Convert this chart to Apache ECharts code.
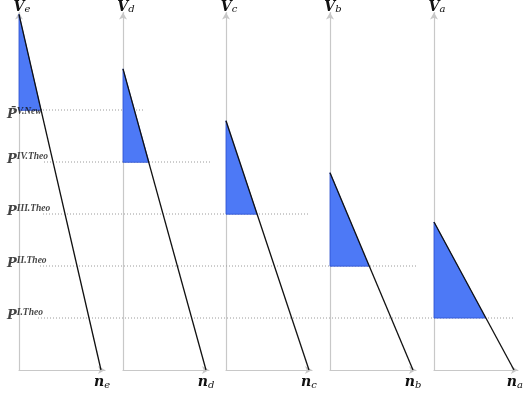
<!DOCTYPE html>
<html><head><meta charset="utf-8">
<script src="https://cdn.jsdelivr.net/npm/echarts@6/dist/echarts.min.js"></script>
<style>html,body{margin:0;padding:0;background:#fff}#c{width:526px;height:397px}</style>
</head><body><div id="c"></div>
<script>
// ---- data ----
const panelNames = ['e', 'd', 'c', 'b', 'a'];
const topV = [6.85, 5.8, 4.8, 3.8, 2.85];      // V value where the line starts
const bottomN = [8.2, 8.3, 8.3, 8.3, 8.2];     // n value where the line meets the axis
const crossN = [2.2, 2.6, 3.1, 3.9, 5.3];      // n value where the line crosses its level
const levels = [5, 4, 3, 2, 1];                // P level of each panel
const levelSup = ['V.New', 'IV.Theo', 'III.Theo', 'II.Theo', 'I.Theo'];

// ---- layout ----
const axisLeft = [19, 123, 226, 330, 434];
const gridTop = 12, gridH = 358, gridW = 86;
const yMax = gridH / 52, xMax = gridW / 10;
const dotStart = [10, 44, 43, 40, 38];
const dotEnd = [145, 210, 308, 417, 515];
const serif = 'DejaVu Serif';
const serif2 = 'Liberation Serif';
const axisGrey = '#c8c8c8';

const grids = [], xAxes = [], yAxes = [], series = [];
panelNames.forEach((nm, i) => {
  grids.push({ left: axisLeft[i], top: gridTop, width: gridW, height: gridH });
  xAxes.push({
    gridIndex: i, type: 'value', min: 0, max: xMax,
    name: '{a|n}{b|' + nm + '}', nameLocation: 'end', nameGap: -3,
    nameTextStyle: { align: 'center', verticalAlign: 'top', padding: [4, 0, 0, 0],
      rich: { a: { fontFamily: serif, fontSize: 14, fontWeight: 'bold', fontStyle: 'italic', color: '#111' },
              b: { fontFamily: serif, fontSize: 10, fontStyle: 'italic', color: '#111', verticalAlign: 'bottom', padding: [6, 0, 0, 0] } } },
    axisLine: { show: true, lineStyle: { color: axisGrey, width: 1.2 }, symbol: ['none', 'arrow'], symbolSize: [6, 7] },
    axisTick: { show: false }, axisLabel: { show: false }, splitLine: { show: false }
  });
  yAxes.push({
    gridIndex: i, type: 'value', min: 0, max: yMax,
    name: '{a|V}{b|' + nm + '}', nameLocation: 'end', nameGap: -2,
    nameTextStyle: { align: 'center', verticalAlign: 'bottom', padding: [0, 0, 0, 6],
      rich: { a: { fontFamily: serif, fontSize: 14, fontWeight: 'bold', fontStyle: 'italic', color: '#111' },
              b: { fontFamily: serif, fontSize: 10, fontStyle: 'italic', color: '#111', verticalAlign: 'bottom', padding: [5, 0, 0, 0] } } },
    axisLine: { show: true, lineStyle: { color: axisGrey, width: 1.2 }, symbol: ['none', 'arrow'], symbolSize: [6, 7] },
    axisTick: { show: false }, axisLabel: { show: false }, splitLine: { show: false }
  });
});

// overlay grid for dotted levels and their labels (x in pixels)
grids.push({ left: 0, top: gridTop, width: 526, height: gridH });
xAxes.push({ gridIndex: 5, type: 'value', min: 0, max: 526, show: false });
yAxes.push({ gridIndex: 5, type: 'value', min: 0, max: yMax, show: false });

levels.forEach((L, k) => {
  series.push({
    type: 'line', xAxisIndex: 5, yAxisIndex: 5, symbol: 'none', silent: true, z: 1,
    data: [[dotStart[k], L], [dotEnd[k], L]],
    lineStyle: { color: '#9a9a9a', width: 1, type: [1, 2] }
  });
  series.push({
    type: 'scatter', xAxisIndex: 5, yAxisIndex: 5, symbolSize: 0, silent: true, z: 5,
    data: [[7, L]],
    label: {
      show: true, position: 'right', distance: 0, offset: k === 0 ? [0, 5] : [0, -2],
      formatter: '{p|' + (k === 0 ? 'P\u0304' : 'P') + '}{s|' + levelSup[k] + '}',
      rich: {
        p: { fontFamily: serif, fontSize: 13, fontWeight: 'bold', fontStyle: 'italic', color: '#111' },
        s: { fontFamily: serif2, fontSize: 9.5, fontWeight: 'bold', fontStyle: 'italic', color: '#111', verticalAlign: 'top', padding: [0, 0, 6, 0] }
      }
    }
  });
});

panelNames.forEach((nm, i) => {
  series.push({
    type: 'custom', xAxisIndex: i, yAxisIndex: i, z: 3, silent: true,
    data: [[0, levels[i]]],
    renderItem: (params, api) => ({
      type: 'polygon',
      shape: { points: [api.coord([0, topV[i]]), api.coord([crossN[i], levels[i]]), api.coord([0, levels[i]])] },
      style: { fill: '#4d79f6', stroke: '#2a4fd0', lineWidth: 0.8 }
    })
  });
  series.push({
    type: 'line', xAxisIndex: i, yAxisIndex: i, symbol: 'none', silent: true, z: 4,
    data: [[0, topV[i]], [bottomN[i], 0]],
    lineStyle: { color: '#111', width: 1.3 }
  });
});

const chart = echarts.init(document.getElementById('c'), null, { renderer: 'canvas' });
chart.setOption({ animation: false, grid: grids, xAxis: xAxes, yAxis: yAxes, series: series });
</script></body></html>
